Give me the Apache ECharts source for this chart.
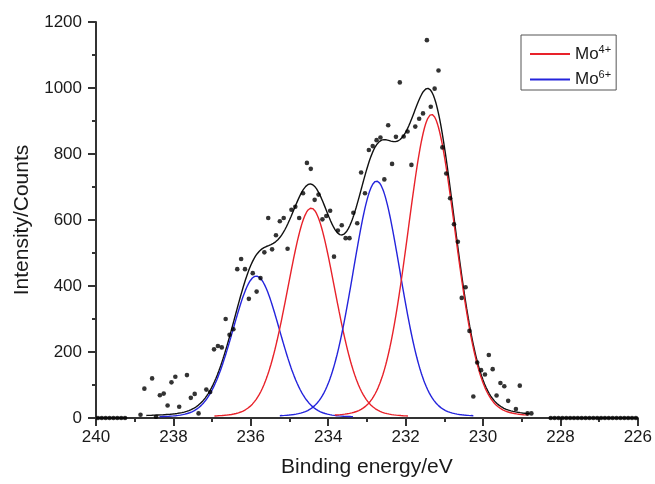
<!DOCTYPE html>
<html>
<head>
<meta charset="utf-8">
<script src="https://cdn.jsdelivr.net/npm/echarts@6/dist/echarts.min.js"></script>
<style>
  html, body { margin: 0; padding: 0; background: #fff; }
  #chart { width: 655px; height: 484px; }
</style>
</head>
<body>
<div id="chart"></div>
<script>
// Measured Mo 3d spectrum: binding energy (eV) and counts
const energies = [
  239.95, 239.85, 239.75, 239.65, 239.55, 239.45, 239.35, 239.25,
  238.85, 238.75, 238.55, 238.45, 238.35, 238.25, 238.15, 238.05, 237.95, 237.85,
  237.65, 237.55, 237.45, 237.35, 237.15, 237.05, 236.95, 236.85, 236.75, 236.65,
  236.55, 236.45, 236.35, 236.25, 236.15, 236.05, 235.95, 235.85, 235.75, 235.65,
  235.55, 235.45, 235.35, 235.25, 235.15, 235.05, 234.95, 234.85, 234.75, 234.65,
  234.55, 234.45, 234.35, 234.25, 234.15, 234.05, 233.95, 233.85, 233.75, 233.65,
  233.55, 233.45, 233.35, 233.25, 233.15, 233.05, 232.95, 232.85, 232.75, 232.65,
  232.55, 232.45, 232.35, 232.25, 232.15, 232.05, 231.95, 231.85, 231.75, 231.65,
  231.55, 231.45, 231.35, 231.25, 231.15, 231.05, 230.95, 230.85, 230.75, 230.65,
  230.55, 230.45, 230.35, 230.25, 230.15, 230.05, 229.95, 229.85, 229.75, 229.65,
  229.55, 229.45, 229.35, 229.15, 229.05, 228.85, 228.75,
  228.25, 228.15, 228.05, 227.95, 227.85, 227.75, 227.65, 227.55, 227.45, 227.35,
  227.25, 227.15, 227.05, 226.95, 226.85, 226.75, 226.65, 226.55, 226.45, 226.35,
  226.25, 226.15, 226.05
];
const counts = [
  0, 0, 0, 0, 0, 0, 0, 0,
  10, 89, 120, 4, 69, 74, 38, 108, 125, 34,
  130, 61, 73, 14, 86, 79, 208, 218, 214, 300,
  252, 269, 451, 482, 451, 361, 439, 383, 424, 502,
  606, 511, 554, 596, 606, 513, 631, 640, 606, 681,
  773, 755, 661, 677, 602, 612, 628, 489, 568, 584,
  545, 545, 622, 590, 744, 681, 812, 824, 842, 850,
  723, 887, 770, 852, 1017, 853, 868, 767, 883, 907,
  923, 1145, 943, 998, 1053, 820, 741, 666, 587, 534,
  364, 396, 264, 65, 168, 145, 132, 191, 148, 68,
  106, 96, 52, 27, 98, 14, 14,
  0, 0, 0, 0, 0, 0, 0, 0, 0, 0,
  0, 0, 0, 0, 0, 0, 0, 0, 0, 0,
  0, 0, 0
];

// Fitted peak components (pseudo-Voigt, shared FWHM)
const peakStates  = ['Mo6+', 'Mo4+', 'Mo6+', 'Mo4+'];
const peakCenters = [235.86, 234.44, 232.75, 231.33];
const peakHeights = [430, 636, 718, 920];
const peakFwhm = 1.46;
const lorentzFraction = 0.12;

// Axis ticks
const xTicks = [240, 238, 236, 234, 232, 230, 228, 226];
const yTicks = [0, 200, 400, 600, 800, 1000, 1200];

const stateColors = { 'Mo4+': '#e8222a', 'Mo6+': '#2424dc' };
const FONT = '"Liberation Sans", Arial, sans-serif';

function profile(x, c, h) {
  const t = (x - c) / peakFwhm;
  const g = Math.exp(-4 * Math.LN2 * t * t);
  const l = 1 / (1 + 4 * t * t);
  return h * ((1 - lorentzFraction) * g + lorentzFraction * l);
}

const step = 0.02;
function sampleRange(a, b, fn) {
  const out = [];
  const n = Math.round((b - a) / step);
  for (let i = 0; i <= n; i++) {
    const x = a + i * step;
    out.push([+x.toFixed(3), fn(x)]);
  }
  return out;
}

const componentSeries = peakCenters.map((c, i) => ({
  name: peakStates[i],
  type: 'line',
  showSymbol: false,
  symbol: 'none',
  silent: true,
  lineStyle: { color: stateColors[peakStates[i]], width: 1.4 },
  itemStyle: { color: stateColors[peakStates[i]] },
  data: sampleRange(c - 2.5, c + 2.5, x => profile(x, c, peakHeights[i])),
  z: 3
}));

const envelope = {
  name: 'Fit',
  type: 'line',
  showSymbol: false,
  symbol: 'none',
  silent: true,
  lineStyle: { color: '#111', width: 1.4 },
  data: sampleRange(228.8, 238.7, x =>
    peakCenters.reduce((s, c, i) => s + profile(x, c, peakHeights[i]), 0)),
  z: 3
};

const points = {
  name: 'Data',
  type: 'scatter',
  symbol: 'circle',
  symbolSize: 4.6,
  itemStyle: { color: '#000' },
  data: energies.map((e, i) => [e, counts[i]]),
  z: 4
};

const axisCommon = {
  axisLine: { show: true, lineStyle: { color: '#333', width: 2 } },
  axisTick: { show: true, inside: false, length: 8, lineStyle: { color: '#333', width: 2 } },
  minorTick: { show: true, splitNumber: 2, length: 4, lineStyle: { color: '#333', width: 2 } },
  splitLine: { show: false },
  minorSplitLine: { show: false }
};

const chart = echarts.init(document.getElementById('chart'), null, { renderer: 'canvas' });
chart.setOption({
  animation: false,
  backgroundColor: '#fff',
  grid: { left: 96, right: 17, top: 22, bottom: 66, containLabel: false },
  legend: {
    data: ['Mo4+', 'Mo6+'],
    orient: 'vertical',
    left: 521,
    top: 35,
    padding: [9, 5, 2, 9],
    itemGap: 7,
    itemWidth: 40,
    itemHeight: 2,
    icon: 'rect',
    borderColor: '#555',
    borderWidth: 1,
    formatter: name => '{b|Mo}{s|' + name.slice(2) + '}',
    textStyle: {
      fontFamily: FONT,
      color: '#1a1a1a',
      rich: {
        b: { fontSize: 17, fontFamily: FONT, color: '#1a1a1a' },
        s: { fontSize: 11, fontFamily: FONT, color: '#1a1a1a', padding: [0, 0, 9, 0] }
      }
    }
  },
  xAxis: Object.assign({
    type: 'value',
    inverse: true,
    min: xTicks[xTicks.length - 1],
    max: xTicks[0],
    interval: 2,
    name: 'Binding energy/eV',
    nameLocation: 'middle',
    nameGap: 39,
    nameTextStyle: { fontFamily: FONT, fontSize: 21, color: '#1a1a1a' },
    axisLabel: { fontFamily: FONT, fontSize: 17, color: '#1a1a1a', margin: 11,
      formatter: v => xTicks.includes(v) ? String(v) : '' }
  }, axisCommon),
  yAxis: Object.assign({
    type: 'value',
    min: yTicks[0],
    max: yTicks[yTicks.length - 1],
    interval: 200,
    name: 'Intensity/Counts',
    nameLocation: 'middle',
    nameGap: 63,
    nameTextStyle: { fontFamily: FONT, fontSize: 21, color: '#1a1a1a' },
    axisLabel: { fontFamily: FONT, fontSize: 17, color: '#1a1a1a', margin: 14,
      formatter: v => yTicks.includes(v) ? String(v) : '' }
  }, axisCommon),
  series: [envelope].concat(componentSeries, [points])
});
</script>
</body>
</html>
